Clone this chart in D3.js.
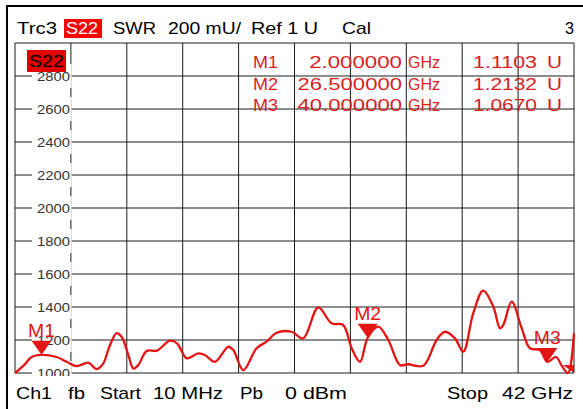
<!DOCTYPE html>
<html><head><meta charset="utf-8">
<script src="https://cdn.jsdelivr.net/npm/d3@7"></script>
<style>
html,body{margin:0;padding:0;background:#fff;}
svg{display:block;}
text{font-family:"Liberation Sans",Arial,sans-serif;}
</style>
</head><body>
<svg id="c" width="583" height="409"></svg>
<script>
// ---- data ----
const freqGHz = [0.01,0.69,1.26,2.0,3.14,3.89,4.64,5.52,6.15,6.62,7.15,7.65,8.03,8.52,8.90,9.27,9.90,10.68,11.65,12.18,12.91,13.78,14.28,15.03,16.03,16.41,17.16,18.16,18.91,19.66,20.79,21.66,22.79,23.79,24.66,25.30,25.93,26.5,27.30,28.05,28.93,29.55,30.68,31.68,32.31,33.06,33.68,34.43,35.18,35.94,36.44,36.69,37.32,38.07,38.69,39.44,40.0,40.65,41.1,41.55,42.0];
const swrMilliU = [1000,1048,1097,1110,1097,1068,1042,1062,1024,1055,1170,1242,1218,1109,1027,1048,1133,1136,1196,1180,1089,1119,1109,1068,1159,1139,1018,1150,1190,1244,1250,1210,1398,1301,1291,1150,1068,1213,1281,1200,1048,1053,1044,1200,1250,1210,1129,1362,1499,1402,1271,1291,1432,1271,1150,1139,1067,1097,1042,1000,1242];
const yTickLabels = [1000,1200,1400,1600,1800,2000,2200,2400,2600,2800];
const markerNames = ["M1","M2","M3"];
const markerFreqGHz = [2.0,26.5,40.0];
const markerValueMilliU = [1110.3,1213.2,1067.0];
const markerFreqText = ["2.000000","26.500000","40.000000"];
const markerValueText = ["1.1103","1.2132","1.0670"];
const headerItems = ["Trc3","S22","SWR","200 mU/","Ref 1 U","Cal","3"];
const footerItems = ["Ch1","fb","Start","10 MHz","Pb","0 dBm","Stop","42 GHz"];

// ---- layout ----
const svg = d3.select("#c");
const L=15, T=43, R=574, B=373;
const x = d3.scaleLinear().domain([0.01,42]).range([L,R]);
const y = d3.scaleLinear().domain([1000,3000]).range([B,T]);
const red = "#e31414";

// outer frame
svg.append("path").attr("d","M7,409 L7,6 L583,6").attr("fill","none").attr("stroke","#000").attr("stroke-width",2);

// header
const hdrPos = [[17,40],[66,32],[113,43],[168,73],[251,67],[342,29],[565,9]];
svg.append("rect").attr("x",64).attr("y",19).attr("width",38).attr("height",19).attr("fill","#ff0000");
headerItems.forEach((t,i)=>{
  svg.append("text").attr("x",hdrPos[i][0]).attr("y",33.5)
    .attr("font-size",17).attr("textLength",hdrPos[i][1]).attr("lengthAdjust","spacingAndGlyphs")
    .attr("fill", i===1 ? "#fff" : "#000").text(t);
});

// grid
const xDiv = d3.range(11).map(i=>x.domain()[0]+i*(x.domain()[1]-x.domain()[0])/10);
const yDiv = d3.range(11).map(i=>1000+i*200);
const g = svg.append("g");
g.selectAll(".vg").data(xDiv).join("line")
  .attr("x1",d=>x(d)).attr("x2",d=>x(d)).attr("y1",T).attr("y2",B)
  .attr("stroke","#1a1a1a").attr("stroke-width",1);
g.selectAll(".hg").data(yDiv).join("line")
  .attr("y1",d=>y(d)).attr("y2",d=>y(d)).attr("x1",L).attr("x2",R)
  .attr("stroke","#1a1a1a").attr("stroke-width",1);

// y labels with white boxes (clipped to plot)
svg.append("clipPath").attr("id","pc").append("rect").attr("x",L).attr("y",T).attr("width",R-L).attr("height",B-T+3);
const lab = svg.append("g").attr("clip-path","url(#pc)");
lab.selectAll("rect").data(yTickLabels).join("rect")
  .attr("x",32).attr("y",d=>y(d)-12).attr("width",39.6).attr("height",24).attr("fill","#fff");
lab.selectAll("text").data(yTickLabels).join("text")
  .attr("x",70).attr("y",d=>y(d)).attr("dy","0.36em").attr("text-anchor","end")
  .attr("font-size",13).attr("textLength",33).attr("lengthAdjust","spacingAndGlyphs")
  .attr("fill","#333").text(d=>d);

// S22 trace label
svg.append("rect").attr("x",27).attr("y",50).attr("width",39).attr("height",22).attr("fill","#e00000");
svg.append("text").attr("x",29).attr("y",67).attr("font-size",17).attr("textLength",35).attr("lengthAdjust","spacingAndGlyphs").attr("fill","#000").text("S22");

// marker table
const rowY = [68,89.5,111];
markerNames.forEach((m,i)=>{
  const ty = rowY[i];
  const add=(tx,txt,w,anchor)=>svg.append("text").attr("x",tx).attr("y",ty).attr("font-size",16.5)
    .attr("text-anchor",anchor||"start").attr("textLength",w).attr("lengthAdjust","spacingAndGlyphs")
    .attr("fill","#d81e1e").text(txt);
  add(253,m,25);
  add(402,markerFreqText[i], markerFreqText[i].length*11.6,"end");
  add(408,"GHz",32);
  add(473,markerValueText[i],64);
  add(547,"U",15);
});

// trace
const data = freqGHz.map((f,i)=>[f,swrMilliU[i]]);
svg.append("clipPath").attr("id","tc").append("rect").attr("x",L).attr("y",T).attr("width",R-L+1).attr("height",B-T+3);
svg.append("path").datum(data).attr("clip-path","url(#tc)")
  .attr("d",d3.line().x(d=>x(d[0])).y(d=>y(d[1])).curve(d3.curveCatmullRom.alpha(0.5)))
  .attr("fill","none").attr("stroke",red).attr("stroke-width",2.3).attr("stroke-linejoin","round");

// markers
markerNames.forEach((m,i)=>{
  const px=x(markerFreqGHz[i]), py=y(markerValueMilliU[i]);
  svg.append("path").attr("d",`M${px-10},${py-14} L${px+10},${py-14} L${px},${py} Z`).attr("fill",red);
  svg.append("text").attr("x",px).attr("y",py-18).attr("text-anchor","middle")
    .attr("font-size",18).attr("textLength",27).attr("lengthAdjust","spacingAndGlyphs")
    .attr("fill",red).text(m);
});
// off-scale indicator at bottom right
svg.append("path").attr("d",`M${R-11},${B-8} L${R},${B-8} L${R},${B} Z`).attr("fill",red);

// footer
const ftPos = [[16,36],[68,17],[100,41],[153,70],[240,23],[285,62],[447,41],[502,71]];
footerItems.forEach((t,i)=>{
  svg.append("text").attr("x",ftPos[i][0]).attr("y",398.5)
    .attr("font-size",17).attr("textLength",ftPos[i][1]).attr("lengthAdjust","spacingAndGlyphs")
    .attr("fill","#000").text(t);
});
</script>
</body></html>
